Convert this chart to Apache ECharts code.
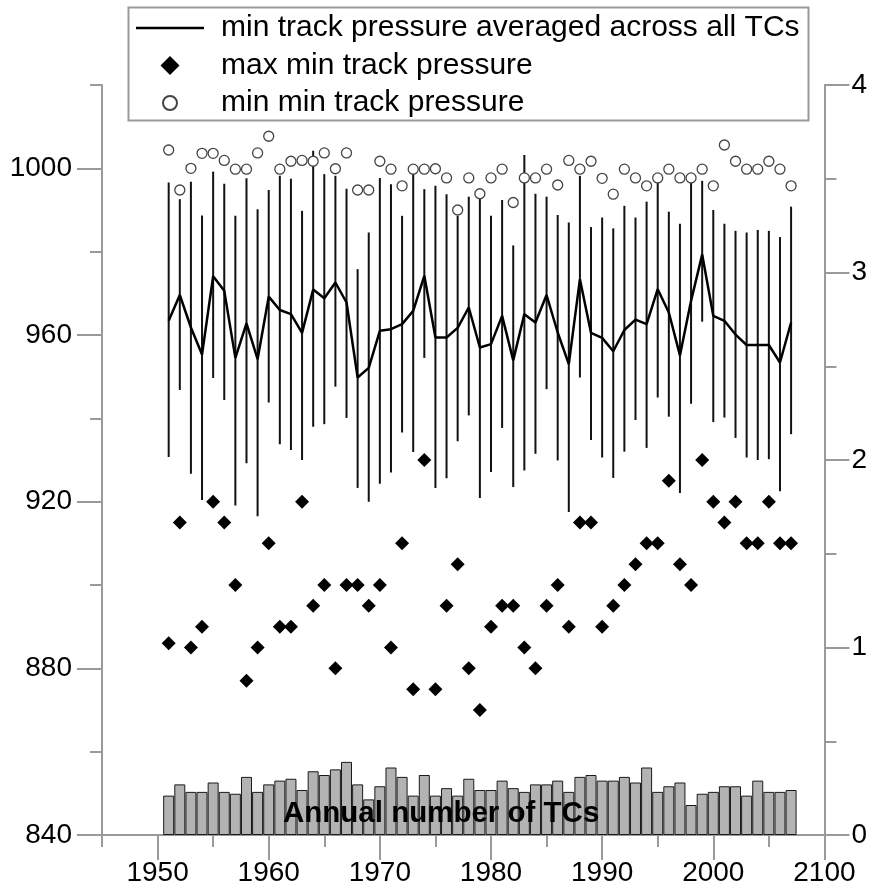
<!DOCTYPE html>
<html>
<head>
<meta charset="utf-8">
<script src="https://cdn.jsdelivr.net/npm/echarts@6/dist/echarts.min.js"></script>
<style>
  html, body { margin: 0; padding: 0; background: #fff; }
  #chart { width: 870px; height: 890px; }
</style>
</head>
<body>
<div id="chart"></div>
<script>
// years 1951-2007
const years = [];
for (let y = 1951; y <= 2007; y++) years.push(y);

// min track pressure averaged across all TCs (hPa)
const meanPressure = [963.4, 969.6, 961.8, 955.3, 974.1, 970.6, 954.5, 962.8, 954.2, 969.2,
  966.0, 965.0, 960.5, 970.9, 968.8, 972.6, 967.8, 949.8, 952.1, 961.0,
  961.4, 962.6, 965.8, 974.2, 959.4, 959.4, 961.7, 966.6, 957.0, 957.8,
  964.6, 953.9, 965.0, 963.0, 969.6, 960.6, 953.0, 973.4, 960.5, 959.3,
  956.1, 961.2, 963.7, 962.6, 971.0, 965.4, 955.1, 968.2, 979.3, 964.6,
  963.4, 960.1, 957.6, 957.6, 957.6, 953.4, 963.0];

// vertical spread lines: upper and lower ends (hPa)
const spreadHigh = [996.6, 992.6, 996.8, 988.7, 999.2, 996.3, 988.6, 997.6, 990.2, 994.8,
  998.2, 997.5, 989.8, 1004.2, 998.6, 998.2, 995.1, 975.8, 984.6, 997.7,
  996.2, 988.6, 998.7, 995.0, 995.8, 993.8, 988.6, 993.2, 994.2, 988.6,
  992.4, 981.5, 1003.2, 993.9, 993.2, 988.8, 987.0, 998.2, 985.9, 988.2,
  985.6, 991.0, 988.2, 992.0, 997.7, 989.6, 986.7, 997.7, 997.0, 990.0,
  986.7, 985.0, 984.6, 985.2, 985.0, 983.5, 990.8];
const spreadLow = [930.7, 946.8, 926.7, 920.4, 949.7, 944.4, 919.1, 929.2, 916.5, 943.8,
  933.8, 932.4, 930.0, 938.0, 938.6, 947.6, 940.1, 923.3, 920.0, 924.3,
  927.0, 936.6, 931.9, 954.5, 923.3, 925.6, 934.5, 940.7, 920.9, 927.1,
  937.7, 923.5, 927.5, 931.5, 947.0, 929.9, 917.5, 949.8, 934.8, 930.6,
  925.7, 932.0, 939.6, 932.9, 945.0, 940.4, 922.1, 943.5, 963.2, 939.1,
  940.2, 935.3, 930.6, 930.0, 930.2, 922.5, 936.2];

// max min track pressure (diamonds)
const maxMinPressure = [886, 915, 885, 890, 920, 915, 900, 877, 885, 910,
  890, 890, 920, 895, 900, 880, 900, 900, 895, 900,
  885, 910, 875, 930, 875, 895, 905, 880, 870, 890,
  895, 895, 885, 880, 895, 900, 890, 915, 915, 890,
  895, 900, 905, 910, 910, 925, 905, 900, 930, 920,
  915, 920, 910, 910, 920, 910, 910];

// min min track pressure (open circles)
const minMinPressure = [1004.4, 994.8, 1000.0, 1003.6, 1003.6, 1001.9, 999.8, 999.8, 1003.7, 1007.7,
  999.8, 1001.7, 1001.9, 1001.7, 1003.7, 999.9, 1003.7, 994.8, 994.8, 1001.7,
  999.8, 995.8, 999.8, 999.8, 999.9, 997.7, 990.0, 997.7, 993.9, 997.7,
  999.8, 991.8, 997.7, 997.7, 999.8, 996.0, 1001.9, 999.8, 1001.7, 997.6,
  993.8, 999.8, 997.7, 995.8, 997.7, 999.8, 997.7, 997.7, 999.8, 995.8,
  1005.6, 1001.7, 999.8, 999.8, 1001.7, 999.8, 995.8];

// annual number of TCs (right axis units)
const annualTCs = [0.21, 0.27, 0.23, 0.23, 0.28, 0.23, 0.22, 0.31, 0.23, 0.27,
  0.29, 0.30, 0.24, 0.34, 0.32, 0.35, 0.39, 0.27, 0.19, 0.26,
  0.36, 0.31, 0.21, 0.32, 0.21, 0.25, 0.21, 0.30, 0.24, 0.24,
  0.29, 0.25, 0.23, 0.27, 0.27, 0.29, 0.23, 0.31, 0.32, 0.29,
  0.29, 0.31, 0.28, 0.36, 0.23, 0.26, 0.28, 0.16, 0.22, 0.23,
  0.26, 0.26, 0.21, 0.29, 0.23, 0.23, 0.24];

const xMajorTicks = [1950, 1960, 1970, 1980, 1990, 2000, 2010];
const xTickLabels = ['1950', '1960', '1970', '1980', '1990', '2000', '2100'];
const leftMajorTicks = [840, 880, 920, 960, 1000];
const rightMajorTicks = [0, 1, 2, 3, 4];

const FONT = '"Liberation Sans", Arial, Helvetica, sans-serif';
const AXIS_GREY = '#9a9a9a';

// legend icons drawn inside a 68x19 box (leading moves fix the box size)
const ICON_LINE = 'path://M0,0M68,19M0,8.2h68v2.6h-68z';
const ICON_DIAMOND = 'path://M0,0M68,19M34,0L43.5,9.5L34,19L24.5,9.5z';
const ICON_CIRCLE = 'path://M0,0M68,19M41,9.5A7,7,0,1,1,27,9.5A7,7,0,1,1,41,9.5z';

const chart = echarts.init(document.getElementById('chart'), null, { renderer: 'canvas' });

const axisLineStyle = { show: true, lineStyle: { color: AXIS_GREY, width: 2 } };

const option = {
  animation: false,
  backgroundColor: '#fff',
  grid: { left: 102, right: 43, top: 85, bottom: 55, containLabel: false },
  legend: {
    orient: 'vertical',
    left: 135,
    top: 13,
    padding: 0,
    itemGap: 7.5,
    itemWidth: 68,
    itemHeight: 19,
    selectedMode: false,
    textStyle: { fontFamily: FONT, fontSize: 30, lineHeight: 30, color: '#000', padding: [0, 0, 0, 12] },
    data: [
      { name: 'min track pressure averaged across all TCs', icon: ICON_LINE },
      { name: 'max min track pressure', icon: ICON_DIAMOND },
      { name: 'min min track pressure', icon: ICON_CIRCLE }
    ]
  },
  graphic: [
    {
      type: 'rect',
      left: 126, top: 5,
      shape: { width: 680, height: 113 },
      style: { fill: 'none', stroke: AXIS_GREY, lineWidth: 2 },
      z: 100
    },
    {
      type: 'text',
      left: 283, top: 799,
      style: { text: 'Annual number of TCs', font: 'bold 29.5px ' + FONT, fill: '#000' },
      z: 100
    }
  ],
  xAxis: [
    {
      type: 'value', position: 'bottom', min: 1945, max: 2010, interval: 5,
      axisLine: axisLineStyle,
      axisTick: { show: true, length: 12, lineStyle: { color: AXIS_GREY, width: 2 } },
      axisLabel: { show: false },
      splitLine: { show: false }
    },
    {
      type: 'value', position: 'bottom', min: 1945, max: 2010, interval: 5,
      axisLine: { show: false },
      axisTick: { show: true, length: 25, customValues: xMajorTicks, lineStyle: { color: AXIS_GREY, width: 2 } },
      axisLabel: {
        show: true, customValues: xMajorTicks, margin: 24,
        fontFamily: FONT, fontSize: 28, color: '#000',
        formatter: v => xTickLabels[xMajorTicks.indexOf(v)]
      },
      splitLine: { show: false }
    }
  ],
  yAxis: [
    {
      type: 'value', position: 'left', min: 840, max: 1020, interval: 20,
      axisLine: axisLineStyle,
      axisTick: { show: true, length: 12, lineStyle: { color: AXIS_GREY, width: 2 } },
      axisLabel: { show: false },
      splitLine: { show: false }
    },
    {
      type: 'value', position: 'left', min: 840, max: 1020, interval: 20,
      axisLine: { show: false },
      axisTick: { show: true, length: 25, customValues: leftMajorTicks, lineStyle: { color: AXIS_GREY, width: 2 } },
      axisLabel: {
        show: true, customValues: leftMajorTicks, margin: 30,
        fontFamily: FONT, fontSize: 28, color: '#000',
        formatter: v => String(v)
      },
      splitLine: { show: false }
    },
    {
      type: 'value', position: 'right', min: 0, max: 4, interval: 0.5,
      axisLine: axisLineStyle,
      axisTick: { show: true, length: 12, lineStyle: { color: AXIS_GREY, width: 2 } },
      axisLabel: { show: false },
      splitLine: { show: false }
    },
    {
      type: 'value', position: 'right', min: 0, max: 4, interval: 0.5,
      axisLine: { show: false },
      axisTick: { show: true, length: 25, customValues: rightMajorTicks, lineStyle: { color: AXIS_GREY, width: 2 } },
      axisLabel: {
        show: true, customValues: rightMajorTicks, margin: 27,
        fontFamily: FONT, fontSize: 28, color: '#000',
        formatter: v => String(v)
      },
      splitLine: { show: false }
    }
  ],
  series: [
    {
      name: 'Annual number of TCs',
      type: 'bar',
      xAxisIndex: 0,
      yAxisIndex: 2,
      barWidth: 11,
      itemStyle: { color: '#b3b3b3', borderColor: '#1a1a1a', borderWidth: 1 },
      data: years.map((y, i) => [y, annualTCs[i]]),
      z: 1
    },
    {
      name: 'spread',
      type: 'custom',
      xAxisIndex: 0,
      yAxisIndex: 0,
      encode: { x: 0, y: [1, 2] },
      renderItem: function (params, api) {
        const x = api.value(0);
        const lo = api.coord([x, api.value(1)]);
        const hi = api.coord([x, api.value(2)]);
        return {
          type: 'line',
          shape: { x1: lo[0], y1: lo[1], x2: hi[0], y2: hi[1] },
          style: { stroke: '#111', lineWidth: 2 }
        };
      },
      data: years.map((y, i) => [y, spreadLow[i], spreadHigh[i]]),
      z: 2
    },
    {
      name: 'min track pressure averaged across all TCs',
      type: 'line',
      xAxisIndex: 0,
      yAxisIndex: 0,
      symbol: 'none',
      lineStyle: { color: '#000', width: 2.5 },
      itemStyle: { color: '#000' },
      data: years.map((y, i) => [y, meanPressure[i]]),
      z: 3
    },
    {
      name: 'max min track pressure',
      type: 'scatter',
      xAxisIndex: 0,
      yAxisIndex: 0,
      symbol: 'diamond',
      symbolSize: 14,
      itemStyle: { color: '#000', opacity: 1 },
      data: years.map((y, i) => [y, maxMinPressure[i]]),
      z: 4
    },
    {
      name: 'min min track pressure',
      type: 'scatter',
      xAxisIndex: 0,
      yAxisIndex: 0,
      symbol: 'circle',
      symbolSize: 10,
      itemStyle: { color: '#fff', borderColor: '#444', borderWidth: 1.3, opacity: 1 },
      data: years.map((y, i) => [y, minMinPressure[i]]),
      z: 4
    }
  ]
};

chart.setOption(option);
</script>
</body>
</html>
